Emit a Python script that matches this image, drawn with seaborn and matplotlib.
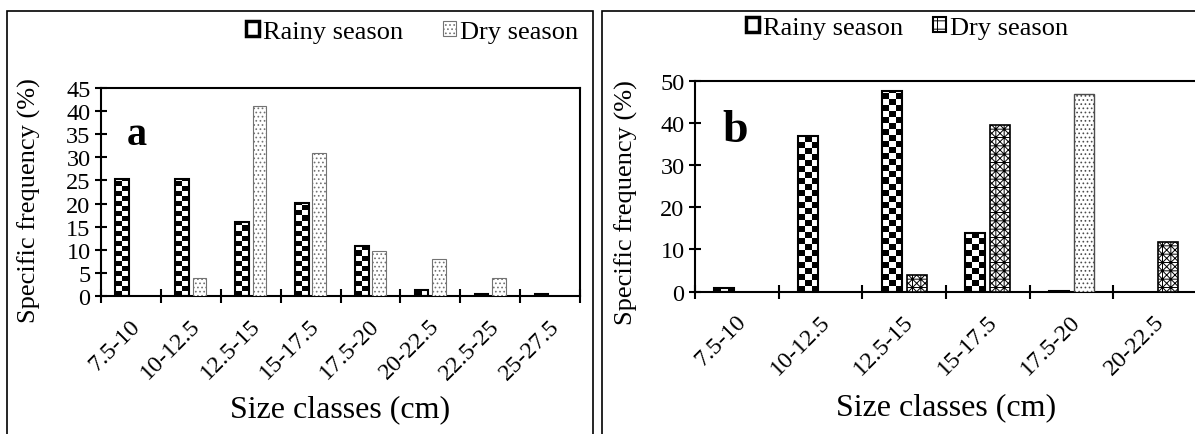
import numpy as np
import pandas as pd
import matplotlib
matplotlib.use("Agg")
import matplotlib.pyplot as plt
import matplotlib.transforms as mtrans
import seaborn as sns
from matplotlib.patches import Patch, Rectangle

# data
sizes_a = ["7.5-10", "10-12.5", "12.5-15", "15-17.5", "17.5-20", "20-22.5", "22.5-25", "25-27.5"]
rainy_a = [25.3, 25.3, 16.1, 20.2, 10.9, 1.2, 0.5, 0.5]
dry_a = [0, 4.0, 41.0, 30.9, 9.7, 8.0, 3.9, 0]

sizes_b = ["7.5-10", "10-12.5", "12.5-15", "15-17.5", "17.5-20", "20-22.5"]
rainy_b = [0.9, 36.9, 47.6, 13.9, 0.2, 0]
dry_b = [0, 0, 3.9, 39.4, 46.7, 11.8]

seasons = ["Rainy season", "Dry season"]

plt.rcParams["font.family"] = ["Liberation Serif", "DejaVu Serif"]
plt.rcParams["hatch.linewidth"] = 0.7

W, H = 1195, 435
fig = plt.figure(figsize=(W / 100, H / 100), dpi=100)
ax_a = fig.add_axes([101 / W, 1 - 297 / H, 479 / W, 208 / H])
ax_b = fig.add_axes([695 / W, 1 - 292.7 / H, 502 / W, 211.2 / H])


def long_df(sizes, rainy, dry):
    n = len(sizes)
    return pd.DataFrame({
        "size": sizes * 2,
        "season": [seasons[0]] * n + [seasons[1]] * n,
        "freq": rainy + dry,
    })


def draw_panel(ax, sizes, rainy, dry, ymax, ystep, width, gap, ncols, sq_px,
               dry_styles, ax_h_px):
    df = long_df(sizes, rainy, dry)
    sns.barplot(data=df, x="size", y="freq", hue="season", order=sizes,
                hue_order=seasons, width=width, gap=gap, errorbar=None,
                saturation=1, legend=False, ax=ax)
    n = len(sizes)

    # rainy bars: checkerboard fill clipped to each bar
    px_per_y = ax_h_px / ymax
    for bar in ax.containers[0]:
        h = bar.get_height()
        if h <= 0:
            bar.set_visible(False)
            continue
        bar.set_facecolor("none")
        bar.set_edgecolor("black")
        bar.set_linewidth(1.5)
        bar.set_zorder(3)
        x0, w = bar.get_x(), bar.get_width()
        sq_y = sq_px / px_per_y
        nrows = int(np.ceil(h / sq_y)) + 1
        board = np.add.outer(np.arange(nrows), np.arange(ncols)) % 2
        im = ax.imshow(board, cmap="gray", vmin=0, vmax=1, origin="lower",
                       extent=(x0, x0 + w, 0, nrows * sq_y), aspect="auto",
                       interpolation="nearest", zorder=2)
        im.set_clip_path(bar)

    # dry bars: hatched
    for bar, (hatch, ec, lw) in zip(ax.containers[1], dry_styles):
        if bar.get_height() <= 0:
            bar.set_visible(False)
            continue
        bar.set_facecolor("white")
        bar.set_edgecolor(ec)
        bar.set_hatch(hatch)
        bar.set_linewidth(lw)
        bar.set_zorder(3)

    ax.set_xlim(-0.5, n - 0.5)
    ax.set_ylim(0, ymax)
    ax.set_yticks(np.arange(0, ymax + 0.1, ystep))
    ax.set_xticks(range(n))
    ax.set_xticklabels(sizes, rotation=45, ha="right", va="center",
                       rotation_mode="anchor", fontsize=17.5)
    ax.set_xticks(np.arange(-0.5, n), minor=True)
    ax.tick_params(axis="x", which="major", length=0, pad=19)
    ax.tick_params(axis="x", which="minor", direction="inout", length=10,
                   width=1.5, color="black")
    ax.tick_params(axis="y", direction="inout", length=9, width=1.5,
                   labelsize=17.5, pad=3)
    # nudge rotated labels to the right a bit (after tick_params, which resets transforms)
    shift = mtrans.ScaledTranslation(6 / 100, 0, fig.dpi_scale_trans)
    for lab in ax.get_xticklabels():
        lab.set_transform(lab.get_transform() + shift)
    for s in ax.spines.values():
        s.set_linewidth(1.5)
        s.set_color("black")


dense = "xxxx++"
dry_a_styles = [("....", "0.45", 0.8)] * len(sizes_a)
dry_b_styles = [(dense, "black", 1.2), (dense, "black", 1.2), (dense, "black", 1.2),
                (dense, "black", 1.2), ("....", "0.3", 1.0), (dense, "black", 1.2)]

draw_panel(ax_a, sizes_a, rainy_a, dry_a, 45, 5, 0.58, 0.22, 2, 5, dry_a_styles, 208)
draw_panel(ax_b, sizes_b, rainy_b, dry_b, 50, 10, 0.6, 0.2, 3, 6, dry_b_styles, 211.2)

# axis labels
ax_a.set_ylabel("Specific frequency (%)", fontsize=19)
ax_a.yaxis.set_label_coords(-0.125, 0.466)
ax_b.set_ylabel("Specific frequency (%)", fontsize=19)
ax_b.yaxis.set_label_coords(-0.114, 0.425)
ax_a.set_xlabel("Size classes (cm)", fontsize=23)
ax_a.xaxis.set_label_coords(0.5, -0.47)
ax_b.set_xlabel("Size classes (cm)", fontsize=23)
ax_b.xaxis.set_label_coords(0.5, -0.475)

# panel letters
fig.text(127 / W, 1 - 145 / H, "a", fontsize=29, fontweight="bold", va="baseline")
fig.text(722 / W, 1 - 142 / H, "b", fontsize=33, fontweight="bold", va="baseline")

# legends
rain_h = Patch(facecolor="white", edgecolor="black", linewidth=2.5)
dry_h_a = Patch(facecolor="white", edgecolor="0.45", hatch="....", linewidth=0.8)
dry_h_b = Patch(facecolor="white", edgecolor="black", hatch="++", linewidth=1.5)
ax_a.legend([rain_h, dry_h_a], seasons, ncol=2, loc="center",
            bbox_to_anchor=(412 / W, 1 - 33 / H), bbox_transform=fig.transFigure,
            frameon=False, fontsize=19, handlelength=0.5, handleheight=0.5,
            handletextpad=0.15, columnspacing=1.5, borderpad=0)
ax_b.legend([rain_h, dry_h_b], seasons, ncol=2, loc="center",
            bbox_to_anchor=(907 / W, 1 - 29 / H), bbox_transform=fig.transFigure,
            frameon=False, fontsize=19, handlelength=0.5, handleheight=0.5,
            handletextpad=0.15, columnspacing=1.1, borderpad=0)

# outer panel frames
fig.add_artist(Rectangle((7 / W, -0.05), 586 / W, 1.05 - 12 / H, fill=False,
                         edgecolor="black", linewidth=1.2, transform=fig.transFigure))
fig.add_artist(Rectangle((602 / W, -0.05), 0.6, 1.05 - 12 / H, fill=False,
                         edgecolor="black", linewidth=1.2, transform=fig.transFigure))

fig.savefig("out.png", dpi=100)
